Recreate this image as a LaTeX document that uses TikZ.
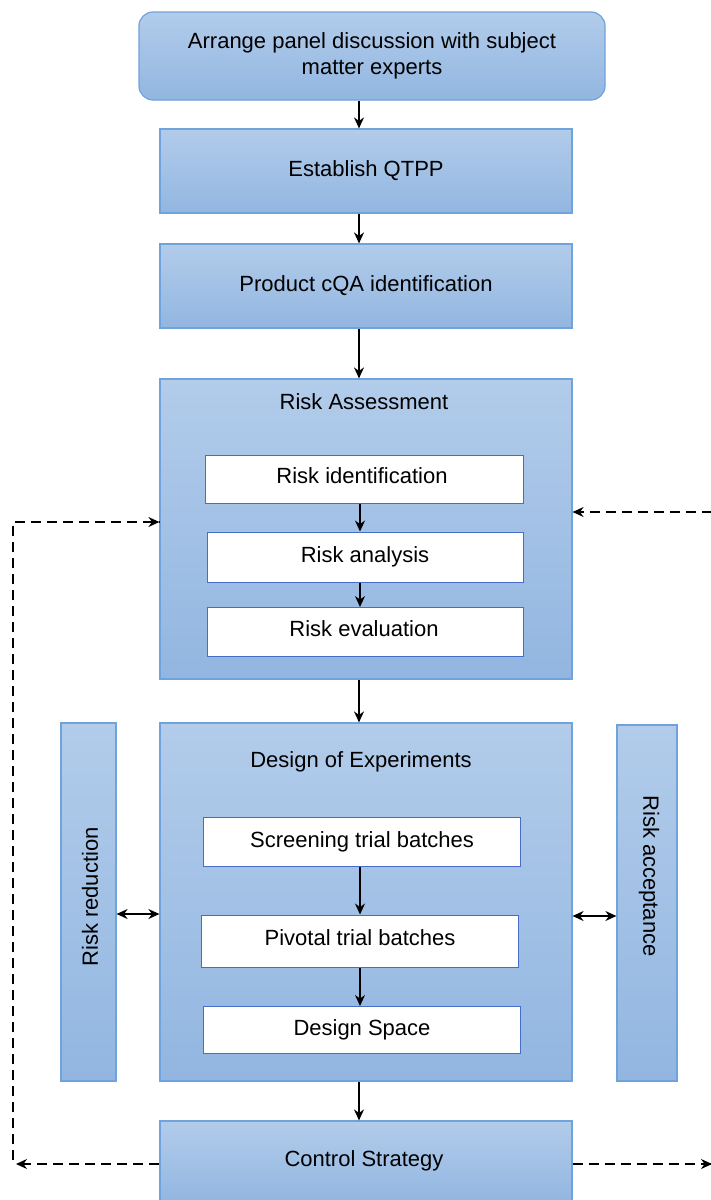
\documentclass[tikz,border=0pt]{standalone}
\usepackage{fontspec}
\setmainfont{Liberation Sans}
\usetikzlibrary{arrows.meta,calc}
\definecolor{boxtop}{RGB}{178,204,234}
\definecolor{boxbot}{RGB}{146,182,225}
\definecolor{boxline}{RGB}{112,162,220}
\definecolor{innerline}{RGB}{70,110,200}
\tikzset{
  bluebox/.style={draw=boxline, line width=1.2pt, top color=boxtop, bottom color=boxbot, inner sep=0pt, font=\fontsize{22}{26}\selectfont, align=center},
  whitebox/.style={draw=innerline, line width=1pt, fill=white, inner sep=0pt, font=\fontsize{22}{26}\selectfont, align=center},
  titletext/.style={inner sep=0pt, font=\fontsize{22}{26}\selectfont},
  arr/.style={-{Stealth[length=11pt,width=10pt]}, line width=1.4pt},
  dbl/.style={{Stealth[length=11pt,width=10pt]}-{Stealth[length=11pt,width=10pt]}, line width=1.4pt},
  dsh/.style={dash pattern=on 10pt off 6pt, line width=1.5pt},
}
\begin{document}
\begin{tikzpicture}[x=1pt,y=-1pt]
\useasboundingbox (0,0) rectangle (710,1200);
% main column
\node[bluebox, rounded corners=14pt, minimum width=466, minimum height=88] (panel) at (372,56) {Arrange panel discussion with subject\\matter experts};
\node[bluebox, minimum width=412, minimum height=84] (qtpp) at (366,171) {Establish QTPP};
\node[bluebox, minimum width=412, minimum height=84] (cqa) at (366,286) {Product cQA identification};
\node[bluebox, minimum width=412, minimum height=300] (ra) at (366,529) {};
\node[titletext] (ratitle) at (364,402) {Risk Assessment};
\node[whitebox, minimum width=318, minimum height=48] (rid) at (364,479) {};
\node[titletext] (ridt) at (362,476) {Risk identification};
\node[whitebox, minimum width=316, minimum height=50] (ran) at (365,557) {Risk analysis};
\node[whitebox, minimum width=316, minimum height=49] (rev) at (365,632) {};
\node[titletext] (revt) at (364,629) {Risk evaluation};
\node[bluebox, minimum width=412, minimum height=358] (doe) at (366,902) {};
\node[titletext] (doetitle) at (361,762) {Design of Experiments};
\node[whitebox, minimum width=317, minimum height=49] (scr) at (362,842) {Screening trial batches};
\node[whitebox, minimum width=317, minimum height=52] (piv) at (360,941) {};
\node[titletext] (pivt) at (360,938) {Pivotal trial batches};
\node[whitebox, minimum width=317, minimum height=47] (ds) at (362,1030) {Design Space};
\node[bluebox, minimum width=55, minimum height=358] (rred) at (88.5,902) {};
\node[titletext, rotate=90] (rredt) at (90,897) {Risk reduction};
\node[bluebox, minimum width=60, minimum height=356] (racc) at (647,903) {};
\node[titletext, rotate=-90] (racct) at (649,876) {Risk acceptance};
\node[bluebox, minimum width=412, minimum height=82] (cs) at (366,1162) {};
\node[titletext] (cst) at (364,1161) {Control Strategy};
% solid arrows
\draw[arr] (panel.south -| 359,0) -- (qtpp.north -| 359,0);
\draw[arr] (qtpp.south -| 359,0) -- (cqa.north -| 359,0);
\draw[arr] (cqa.south -| 359,0) -- (ra.north -| 359,0);
\draw[arr] (rid.south -| 360,0) -- (ran.north -| 360,0);
\draw[arr] (ran.south -| 360,0) -- (rev.north -| 360,0);
\draw[arr] (ra.south -| 359,0) -- (doe.north -| 359,0);
\draw[arr] (scr.south -| 360,0) -- (piv.north -| 360,0);
\draw[arr] (piv.south -| 360,0) -- (ds.north -| 360,0);
\draw[arr] (doe.south -| 359,0) -- (cs.north -| 359,0);
\draw[dbl] (rred.east |- 0,914) -- (doe.west |- 0,914);
\draw[dbl] (doe.east |- 0,916) -- (racc.west |- 0,916);
% dashed feedback
\coordinate (lcorner) at (13,1160);
\coordinate (lend) at (16,1164);
\coordinate (rend) at (712,1164);
\coordinate (rstart) at (712,512);
\draw[dsh] (lcorner) -- (13,522) -- (ra.west |- 0,522);
\draw[arr, dash pattern=on 0pt off 0pt] ($(ra.west |- 0,522)+(-12,0)$) -- (ra.west |- 0,522);
\draw[dsh] (cs.west |- lend) -- (lend);
\draw[arr, dash pattern=on 0pt off 0pt] ($(lend)+(12,0)$) -- (lend);
\draw[dsh] (cs.east |- rend) -- (rend);
\draw[arr, dash pattern=on 0pt off 0pt] ($(rend)+(-12,0)$) -- (rend);
\draw[dsh] (rstart) -- (ra.east |- rstart);
\draw[arr, dash pattern=on 0pt off 0pt] ($(ra.east |- rstart)+(12,0)$) -- (ra.east |- rstart);
\end{tikzpicture}
\end{document}
